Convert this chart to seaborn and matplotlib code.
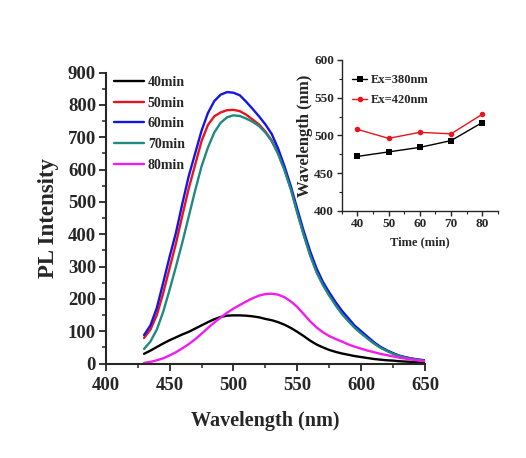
import numpy as np
import pandas as pd
import matplotlib
matplotlib.use("Agg")
import matplotlib.pyplot as plt
from matplotlib.ticker import MultipleLocator
import seaborn as sns

# ---------------- data ----------------
wavelength = list(range(430, 651, 5))

pl_40min = [30, 40, 51, 62, 72, 81, 90, 98, 108, 118, 128, 137, 144, 148, 149, 149,
            148, 146, 143, 138, 134, 128, 120, 110, 98, 85, 71, 59, 50, 42, 36, 31,
            27, 23, 20, 17, 14, 12, 10, 9, 7, 6, 5, 4, 4]
pl_50min = [79, 105, 150, 218, 295, 372, 458, 542, 615, 688, 738, 765, 777, 784, 785, 781,
            770, 755, 740, 718, 690, 650, 600, 540, 468, 400, 338, 285, 245, 212, 182, 155,
            133, 112, 95, 79, 63, 50, 40, 31, 24, 19, 15, 12, 9]
pl_60min = [88, 118, 172, 250, 330, 405, 495, 580, 650, 720, 775, 812, 832, 840, 838, 830,
            810, 788, 765, 740, 710, 665, 610, 548, 478, 410, 348, 295, 253, 220, 190, 163,
            140, 117, 100, 83, 66, 52, 41, 32, 24, 19, 15, 12, 10]
pl_70min = [45, 68, 105, 160, 228, 300, 375, 455, 535, 610, 668, 715, 745, 762, 768, 766,
            758, 748, 735, 715, 688, 648, 598, 538, 466, 398, 335, 283, 243, 210, 180, 153,
            131, 110, 93, 77, 62, 49, 39, 30, 23, 18, 14, 11, 8]
pl_80min = [2, 5, 10, 16, 25, 35, 47, 60, 75, 92, 110, 127, 142, 157, 170, 181,
            192, 202, 210, 215, 216, 213, 205, 192, 175, 153, 131, 112, 97, 85, 76, 68,
            59, 52, 46, 40, 35, 30, 26, 22, 18, 15, 12, 9, 7]

series_names = ["40min", "50min", "60min", "70min", "80min"]
series_colors = ["#000000", "#e8141e", "#1414e6", "#1f8a80", "#f01cf0"]

time_min = [40, 50, 60, 70, 80]
ex380 = [472, 478, 484, 493, 517]
ex420 = [508, 496, 504, 502, 528]
inset_names = ["Ex=380nm", "Ex=420nm"]
inset_colors = ["#000000", "#e8141e"]

# ---------------- style ----------------
sns.set_style("ticks")
plt.rcParams["font.family"] = ["Liberation Serif", "DejaVu Serif"]
plt.rcParams["font.weight"] = "bold"
plt.rcParams["axes.labelweight"] = "bold"

fig = plt.figure(figsize=(5.26, 4.58), dpi=100)
fig.patch.set_facecolor("white")

# ---------------- main axes ----------------
ax = fig.add_axes([0.201, 0.2063, 0.607, 0.635])
rows = []
for name, vals in zip(series_names, [pl_40min, pl_50min, pl_60min, pl_70min, pl_80min]):
    for w, v in zip(wavelength, vals):
        rows.append({"Wavelength": w, "PL": v, "Sample": name})
df = pd.DataFrame(rows)
sns.lineplot(data=df, x="Wavelength", y="PL", hue="Sample",
             palette=dict(zip(series_names, series_colors)),
             linewidth=1.7, ax=ax, legend=True)

ax.set_xlim(400, 650)
ax.set_ylim(0, 900)
ax.xaxis.set_major_locator(MultipleLocator(50))
ax.xaxis.set_minor_locator(MultipleLocator(25))
ax.yaxis.set_major_locator(MultipleLocator(100))
ax.yaxis.set_minor_locator(MultipleLocator(50))
for s in ["top", "right"]:
    ax.spines[s].set_visible(False)
for s in ["left", "bottom"]:
    ax.spines[s].set_linewidth(1.5)
ax.tick_params(axis="both", which="major", direction="out", length=5, width=1.3,
               labelsize=13.5, pad=2)
ax.tick_params(axis="x", which="major", pad=5)
ax.tick_params(axis="both", which="minor", direction="out", length=3, width=1.1)
for lab in ax.get_xticklabels() + ax.get_yticklabels():
    lab.set_fontweight("bold")
ax.set_xlabel("Wavelength (nm)", fontsize=14.5, fontweight="bold", labelpad=12)
ax.set_ylabel("PL Intensity", fontsize=16.5, fontweight="bold", labelpad=6)

handles, labels = ax.get_legend_handles_labels()
leg = ax.legend(handles, labels, loc="upper left", bbox_to_anchor=(-0.005, 1.022),
                frameon=False, fontsize=10, handlelength=2.2, handletextpad=0.25,
                labelspacing=0.55, borderaxespad=0.3)
for t in leg.get_texts():
    t.set_fontweight("bold")
for l in leg.get_lines():
    l.set_linewidth(1.7)

# ---------------- inset ----------------
axi = fig.add_axes([0.6496, 0.54, 0.297, 0.329])
rows2 = []
for name, vals in zip(inset_names, [ex380, ex420]):
    for t, v in zip(time_min, vals):
        rows2.append({"Time": t, "Wl": v, "Ex": name})
df2 = pd.DataFrame(rows2)
sns.lineplot(data=df2, x="Time", y="Wl", hue="Ex", style="Ex",
             palette=dict(zip(inset_names, inset_colors)),
             markers={"Ex=380nm": "s", "Ex=420nm": "o"}, dashes=False,
             markersize=4, markeredgewidth=0, linewidth=1.0, ax=axi)
axi.set_xlim(35, 85)
axi.set_ylim(400, 600)
axi.xaxis.set_major_locator(MultipleLocator(10))
axi.xaxis.set_minor_locator(MultipleLocator(5))
axi.yaxis.set_major_locator(MultipleLocator(50))
axi.yaxis.set_minor_locator(MultipleLocator(25))
for s in ["top", "right"]:
    axi.spines[s].set_visible(False)
for s in ["left", "bottom"]:
    axi.spines[s].set_linewidth(1.0)
axi.tick_params(axis="both", which="major", direction="out", length=3.5, width=1.0,
                labelsize=9.5, pad=2)
axi.tick_params(axis="both", which="minor", direction="out", length=2, width=0.8)
for lab in axi.get_xticklabels() + axi.get_yticklabels():
    lab.set_fontweight("bold")
axi.set_xlabel("Time (min)", fontsize=9, fontweight="bold", labelpad=4)
axi.set_ylabel("Wavelength (nm)", fontsize=12, fontweight="bold", labelpad=1)
h2, l2 = axi.get_legend_handles_labels()
leg2 = axi.legend(h2, l2, loc="upper left", bbox_to_anchor=(0.02, 0.955), frameon=False,
                  fontsize=9, handlelength=1.2, handletextpad=0.3, labelspacing=0.65,
                  borderaxespad=0.2)
for t in leg2.get_texts():
    t.set_fontweight("bold")

fig.savefig("out.png", dpi=100, facecolor="white")
